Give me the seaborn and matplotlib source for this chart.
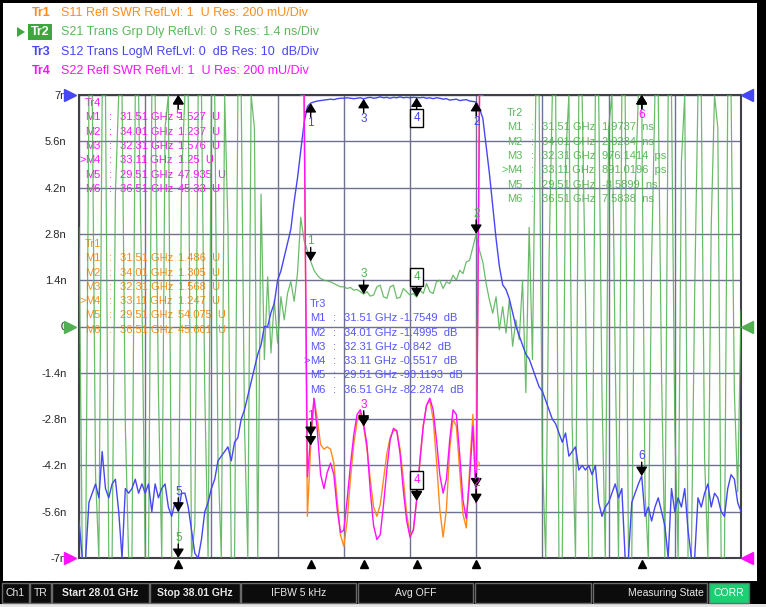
import numpy as np
import pandas as pd
import matplotlib
matplotlib.use('Agg')
import matplotlib.pyplot as plt
import seaborn as sns
from matplotlib.patches import Rectangle, Polygon

# sweep settings (from the status bar)
f_start, f_stop = 28.01, 38.01

# Tr3  S12 Trans LogM (dB), 201 sweep points
s12_db = [
    -92, -100, -101, -88, -86, -84, -87, -77, -85, -87,
    -84, -83, -90, -101, -85, -86, -85, -83, -86, -84,
    -86, -84, -90, -84, -87, -85, -84, -89, -91, -88,
    -90, -86, -86, -89, -94, -99, -101, -96, -90, -88,
    -85, -83, -79, -78, -77, -76, -79, -75, -74, -70,
    -68, -65, -62, -59, -56, -54, -50, -50, -47, -45,
    -40, -38, -35, -32, -29, -23, -18, -12, -6, -2.5,
    -1.75, -1.5, -1.3, -1.2, -1.1, -1.0, -0.9, -1.0, -0.8, -0.7,
    -0.7, -0.6, -0.7, -0.8, -0.7, -0.6, -0.84, -0.6, -0.5, -0.7,
    -0.6, -0.4, -0.6, -0.5, -0.7, -0.5, -0.6, -0.4, -0.6, -0.5,
    -0.6, -0.5, -0.55, -0.6, -0.5, -0.7, -0.6, -0.8, -0.6, -0.7,
    -0.9, -0.8, -1.1, -1.0, -0.9, -1.2, -1.1, -1.0, -1.3, -1.4,
    -1.5, -3, -5, -11, -17, -24, -31, -37, -41, -42,
    -44, -47, -50, -52, -54, -56, -57, -59, -61, -63,
    -64, -66, -68, -70, -71, -73, -75, -73, -78, -77,
    -76, -81, -80, -81, -80, -82, -80, -88, -91, -89,
    -88, -86, -84, -87, -85, -101, -100, -88, -86, -84,
    -82.3, -91, -89, -92, -89, -87, -90, -93, -101, -85,
    -90, -87, -89, -85, -94, -101, -100, -87, -89, -86,
    -84, -89, -86, -87, -90, -91, -85, -82, -83, -88,
    -90,
]

# Tr2  S21 Trans Grp Dly (ns), 201 sweep points
s21_gd_ns = [
    3.0, -9, -12, 12, 15, -4.5, -12, 20, 9, -15,
    -10, 4, 11, 9, -3, -11, -14, 8, 10, 1,
    -9, -14, 13, 12, -2, -8, 6, 12, -10, -12,
    -8.59, 4.5, 14, 10, -13, -6, 10, 8, -2, -11,
    12, 9, -4, -9, 11, 3, -7.5, -10, 9, 10,
    -3, -9, 7.5, 6, -9, 4, -1, 1.5, -0.8, 0.8,
    -0.5, 0.9, 0.2, 1.0, 1.36, 0.76, 1.6, 3.3, 2.6, 2.3,
    1.97, 1.7, 1.55, 1.45, 1.4, 1.38, 1.35, 1.3, 1.25, 1.2,
    1.2, 1.15, 1.18, 1.1, 1.12, 1.05, 0.98, 1.05, 0.92, 0.95,
    1.2, 1.25, 0.9, 0.85, 1.2, 1.25, 0.85, 0.88, 1.15, 1.05,
    0.95, 1.0, 0.89, 1.1, 1.0, 1.3, 1.05, 1.0, 1.35, 1.4,
    1.15, 1.35, 1.3, 1.55, 1.4, 1.7, 1.6, 1.95, 2.0, 2.4,
    2.8, 2.3, 1.95, 1.3, 0.8, 0.4, 0.9, -0.1, 0.6, -0.2,
    0.8, -0.6, 0.2, -0.4, 1.4, -2, 3, -1, 8, 9,
    -4, -10, 2, 11, 10, -12, -8, 5, 10, -3,
    -9, 12, 9, 1, -11, -8, 8, 13, -2, -10,
    6, 12, -1, -12, 9, 11, -13, -9, 4, 10,
    7.58, -5, -11, 2, 9, 8, -1.5, -10, 8, 11,
    -3, -12, 5, 10, -7.5, -9, 1, 12, 9, -4,
    -11, 3, 10, 6, -8, -10, 11, 8, -2, -5,
    0.5,
]

# Tr1 / Tr4 SWR around the passband (31.36 .. 34.11 GHz, 0.05 GHz step)
swr_start, swr_stop = 31.36, 34.11
s11_swr = [
    50, 54, 1.18, 1.486, 1.69, 1.60, 1.49, 1.47, 1.48, 1.47,
    1.41, 1.25, 1.10, 1.05, 1.16, 1.34, 1.49, 1.59, 1.63, 1.568,
    1.47, 1.34, 1.22, 1.18, 1.23, 1.34, 1.45, 1.52, 1.55, 1.55,
    1.47, 1.34, 1.19, 1.10, 1.12, 1.247, 1.42, 1.57, 1.66, 1.68,
    1.60, 1.42, 1.21, 1.09, 1.21, 1.47, 1.60, 1.57, 1.38, 1.19,
    1.13, 1.38, 1.62, 1.305, 45, 52,
]
s22_swr = [
    45, 40, 1.35, 1.527, 1.69, 1.55, 1.36, 1.30, 1.37, 1.41,
    1.36, 1.21, 1.11, 1.12, 1.25, 1.40, 1.53, 1.62, 1.64, 1.576,
    1.49, 1.29, 1.14, 1.08, 1.10, 1.23, 1.38, 1.51, 1.56, 1.55,
    1.45, 1.29, 1.16, 1.09, 1.12, 1.25, 1.42, 1.57, 1.66, 1.69,
    1.64, 1.51, 1.36, 1.28, 1.34, 1.51, 1.64, 1.62, 1.45, 1.25,
    1.17, 1.34, 1.57, 1.237, 40, 48,
]

# markers
marker_names = ['M1', 'M2', 'M3', 'M4', 'M5', 'M6']
marker_freqs = [31.51, 34.01, 32.31, 33.11, 29.51, 36.51]
tr1_readout = ['1.486  U', '1.305  U', '1.568  U', '1.247  U', '54.075  U', '45.601  U']
tr2_readout = ['1.9737  ns', '2.0234  ns', '976.1414  ps', '891.0196  ps', '-8.5899  ns', '7.5838  ns']
tr3_readout = ['-1.7549  dB', '-1.4995  dB', '-0.842  dB', '-0.5517  dB', '-90.1193  dB', '-82.2874  dB']
tr4_readout = ['1.527  U', '1.237  U', '1.576  U', '1.25  U', '47.935  U', '45.33  U']

ytick_labels = ['-7n', '-5.6n', '-4.2n', '-2.8n', '-1.4n', '0', '1.4n', '2.8n', '4.2n', '5.6n', '7n']

C_TR1 = '#ff8c1a'
C_TR2 = '#52b052'
C_TR3 = '#4646f5'
C_TR4 = '#ff10ff'

sns.set_style('white')
plt.rcParams['font.family'] = ['Liberation Sans', 'DejaVu Sans']

W, H = 766, 607
fig = plt.figure(figsize=(W / 100, H / 100), dpi=100, facecolor='black')


def fx(x):
    return x / W


def fy(y):
    return 1 - y / H


# white diagram panel
fig.add_artist(Rectangle((fx(3), fy(581)), fx(754), (581 - 3) / H, transform=fig.transFigure,
                         facecolor='white', edgecolor='none', zorder=0))
fig.add_artist(Rectangle((0, 0), 1, 3 / H, transform=fig.transFigure,
                         facecolor='#e6e6e6', edgecolor='none', zorder=0))

ax = fig.add_axes([fx(79), fy(558), (741 - 79) / W, (558 - 95) / H])
ax.set_facecolor('white')


# scale settings of each trace -> display units (Tr2 ns axis)
def db_to_y(v):
    return np.clip(7 + np.asarray(v) * 1.4 / 10, -7, 7)


def swr_to_y(v):
    return np.clip(-7 + (np.asarray(v) - 1) / 0.2 * 1.4, -7, 7)


def ns_to_y(v):
    return np.clip(np.asarray(v), -7, 7)


freq = np.linspace(f_start, f_stop, len(s12_db))
swr_freq = np.linspace(swr_start, swr_stop, len(s11_swr))

df_main = pd.DataFrame({'freq': freq, 'tr2': ns_to_y(s21_gd_ns), 'tr3': db_to_y(s12_db)})
df_swr = pd.DataFrame({'freq': swr_freq, 'tr1': swr_to_y(s11_swr), 'tr4': swr_to_y(s22_swr)})

sns.lineplot(data=df_main, x='freq', y='tr2', ax=ax, color=C_TR2, lw=0.9, alpha=0.85,
             estimator=None, sort=False, zorder=3)
sns.lineplot(data=df_main, x='freq', y='tr3', ax=ax, color=C_TR3, lw=1.0,
             estimator=None, sort=False, zorder=4)
sns.lineplot(data=df_swr, x='freq', y='tr1', ax=ax, color=C_TR1, lw=1.0,
             estimator=None, sort=False, zorder=5)
sns.lineplot(data=df_swr, x='freq', y='tr4', ax=ax, color=C_TR4, lw=1.0,
             estimator=None, sort=False, zorder=6)

ax.set_xlim(f_start, f_stop)
ax.set_ylim(-7, 7)
ax.set_xticks(np.linspace(f_start, f_stop, 11))
ax.set_xticklabels([])
ax.set_yticks(np.linspace(-7, 7, 11))
ax.set_yticklabels(ytick_labels)
ax.tick_params(axis='both', length=0)
ax.tick_params(axis='y', pad=9, labelsize=8)
ax.set_xlabel('')
ax.set_ylabel('')
ax.set_axisbelow(True)
ax.grid(True, color='#707090', lw=1.0)
for sp in ax.spines.values():
    sp.set_color('#404048')
    sp.set_linewidth(1.5)

# marker symbols; a label that would sit on top of an earlier one is not repeated
placed_labels = []


def draw_marker(f, yval, num, color, active=False):
    up = yval > 5.0
    y = float(np.clip(yval, -7, 7))
    d = -1 if up else 1
    ax.annotate('', xy=(f, y), xytext=(0, 10 * d), textcoords='offset points',
                arrowprops=dict(arrowstyle='-|>,head_length=0.45,head_width=0.28', color='black',
                                lw=1.0, shrinkA=0, shrinkB=0, mutation_scale=12),
                zorder=8, annotation_clip=False)
    label_y = y - 0.6 * d if up else y + 0.6 * d
    for pf, py in placed_labels:
        if abs(pf - f) < 0.05 and abs(py - label_y) < 0.45:
            return
    placed_labels.append((f, label_y))
    bbox = None
    if active:
        bbox = dict(boxstyle='square,pad=0.25', facecolor='white', edgecolor='black', lw=1)
    ax.annotate(str(num), xy=(f, y), xytext=(0, 14.5 * d), textcoords='offset points',
                ha='center', va='center', color=color, fontsize=8.5, zorder=9,
                bbox=bbox, annotation_clip=False)


# Tr4 labels first so they win where several traces share a spot
traces = [
    (swr_freq, swr_to_y(s22_swr), C_TR4),
    (swr_freq, swr_to_y(s11_swr), C_TR1),
    (freq, db_to_y(s12_db), C_TR3),
    (freq, ns_to_y(s21_gd_ns), C_TR2),
]
for tf, ty, tc in traces:
    for k, mf in enumerate(marker_freqs):
        draw_marker(mf, np.interp(mf, tf, ty), k + 1, tc, active=(k == 3))

# stimulus triangles under the diagram
xax = ax.get_xaxis_transform()
for mf in marker_freqs:
    ax.plot([mf], [-0.013], marker='^', ms=6, color='black', transform=xax, clip_on=False, zorder=9)

# reference position arrows on both sides
yax = ax.get_yaxis_transform()
for yv, c in [(7, C_TR3), (0, C_TR2), (-7, C_TR4)]:
    ax.plot([-0.013], [yv], marker='>', ms=8, color=c, transform=yax, clip_on=False, zorder=9)
    ax.plot([1.009], [yv], marker='<', ms=8, color=c, transform=yax, clip_on=False, zorder=9)


# marker tables (drawn under the traces)
def draw_table(title, readout, color, x_name, x_colon, x_freq, x_val, y0, dy=14.3):
    kw = dict(transform=fig.transFigure, color=color, fontsize=8, va='center', zorder=1.5)
    ax.text(fx(x_name), fy(y0), title, **kw)
    for k, name in enumerate(marker_names):
        y = y0 + dy * (k + 1)
        if k == 3:
            ax.text(fx(x_name - 6), fy(y), '>', **kw)
        ax.text(fx(x_name), fy(y), name, **kw)
        ax.text(fx(x_colon), fy(y), ':', **kw)
        ax.text(fx(x_freq), fy(y), f'{marker_freqs[k]:.2f} GHz', **kw)
        ax.text(fx(x_val), fy(y), readout[k], **kw)


draw_table('Tr4', tr4_readout, C_TR4, 85, 109, 120, 178, 103)
draw_table('Tr1', tr1_readout, C_TR1, 85, 109, 120, 178, 244)
draw_table('Tr2', tr2_readout, '#5cb85c', 507, 531, 542, 602, 113)
draw_table('Tr3', tr3_readout, '#5555ff', 310, 333, 344, 400, 304)

# header
headers = [
    ('Tr1', 'S11 Refl SWR RefLvl: 1  U Res: 200 mU/Div', C_TR1, 13),
    ('Tr2', 'S21 Trans Grp Dly RefLvl: 0  s Res: 1.4 ns/Div', '#5cb85c', 32),
    ('Tr3', 'S12 Trans LogM RefLvl: 0  dB Res: 10  dB/Div', C_TR3, 52),
    ('Tr4', 'S22 Refl SWR RefLvl: 1  U Res: 200 mU/Div', C_TR4, 71),
]
for name, desc, c, y in headers:
    if name == 'Tr2':
        fig.add_artist(Rectangle((fx(28), fy(40)), 24 / W, 16 / H, transform=fig.transFigure,
                                 facecolor='#3fa63f', edgecolor='none', zorder=2))
        fig.add_artist(Polygon([(fx(17), fy(27)), (fx(17), fy(37)), (fx(25), fy(32))],
                               closed=True, transform=fig.transFigure, facecolor='#3fa63f',
                               edgecolor='none', zorder=2))
        fig.text(fx(40), fy(y), name, color='white', fontsize=9, fontweight='bold',
                 ha='center', va='center', zorder=3)
    else:
        fig.text(fx(32), fy(y), name, color=c, fontsize=9, fontweight='bold', va='center')
    fig.text(fx(61), fy(y), desc, color=c, fontsize=9, va='center')

# status bar
cells = [
    (2, 29, 'Ch1', 'normal', 'center'),
    (30, 51, 'TR', 'normal', 'center'),
    (52, 149, 'Start 28.01 GHz', 'bold', 'center'),
    (150, 240, 'Stop 38.01 GHz', 'bold', 'center'),
    (241, 356, 'IFBW 5 kHz', 'normal', 'center'),
    (358, 473, 'Avg OFF', 'normal', 'center'),
    (475, 591, '', 'normal', 'center'),
    (593, 707, 'Measuring State', 'normal', 'right'),
]
for x0, x1, label, weight, ha in cells:
    fig.add_artist(Rectangle((fx(x0), fy(603)), (x1 - x0) / W, 20 / H, transform=fig.transFigure,
                             facecolor='#0c0c0c', edgecolor='#6a6a6a', lw=1, zorder=2))
    if label:
        tx = (x0 + x1) / 2 if ha == 'center' else x1 - 3
        fig.text(fx(tx), fy(593), label, color='#e8e8e8', fontsize=7.5, fontweight=weight,
                 ha=ha, va='center', zorder=3)
fig.add_artist(Rectangle((fx(709), fy(603)), 40 / W, 20 / H, transform=fig.transFigure,
                         facecolor='#1ccf72', edgecolor='#6a6a6a', lw=1, zorder=2))
fig.text(fx(729), fy(593), 'CORR', color='white', fontsize=7.5, ha='center', va='center', zorder=3)

fig.savefig('out.png', dpi=100, facecolor=fig.get_facecolor())
